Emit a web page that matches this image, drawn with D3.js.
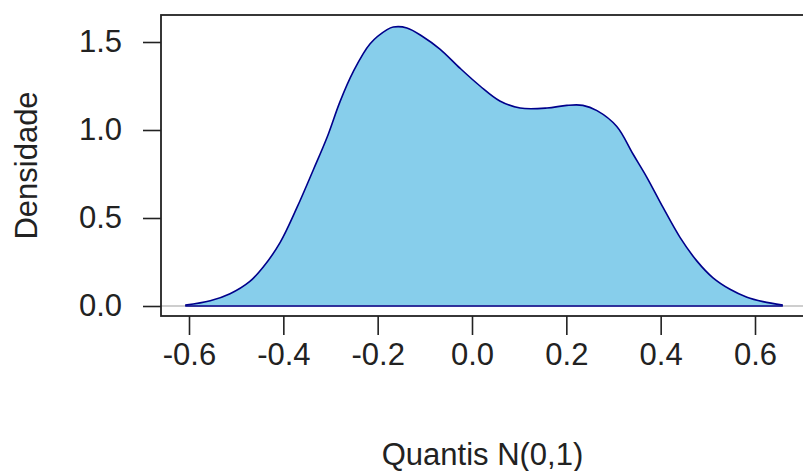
<!DOCTYPE html>
<html>
<head>
<meta charset="utf-8">
<script src="https://cdn.jsdelivr.net/npm/d3@7"></script>
<style>
  body { margin: 0; background: #fff; }
  text { font-family: "Liberation Sans", Arial, sans-serif; fill: #222; }
</style>
</head>
<body>
<svg id="chart" width="803" height="471"></svg>
<script>
// Density curve
const xs = [-0.608, -0.555, -0.513, -0.471, -0.443, -0.407, -0.371, -0.337, -0.307, -0.280,
  -0.252, -0.216, -0.180, -0.167, -0.138, -0.104, -0.068, -0.025, 0.017, 0.059,
  0.102, 0.159, 0.201, 0.235, 0.265, 0.307, 0.341, 0.371, 0.405, 0.441,
  0.477, 0.511, 0.547, 0.583, 0.617, 0.659];
const ys = [0.005, 0.03, 0.07, 0.14, 0.22, 0.36, 0.56, 0.77, 0.96, 1.16,
  1.33, 1.49, 1.57, 1.585, 1.58, 1.53, 1.46, 1.35, 1.25, 1.165,
  1.125, 1.125, 1.14, 1.14, 1.11, 1.02, 0.865, 0.73, 0.56, 0.39,
  0.255, 0.16, 0.095, 0.05, 0.025, 0.005];

const xTicks = [-0.6, -0.4, -0.2, 0.0, 0.2, 0.4, 0.6];
const yTicks = [0.0, 0.5, 1.0, 1.5];

const svg = d3.select('#chart');

// plot box
const box = { left: 161, top: 15, right: 804, bottom: 316 };

const x = d3.scaleLinear().domain([-0.6, 0.6]).range([189, 755]);
const y = d3.scaleLinear().domain([0, 1.5]).range([306, 42]);

const pts = xs.map((v, i) => [v, ys[i]]);
const curve = d3.curveCatmullRom.alpha(0.5);

// filled density
const area = d3.area()
  .x(d => x(d[0]))
  .y0(y(0))
  .y1(d => y(d[1]))
  .curve(curve);

svg.append('path')
  .datum(pts)
  .attr('d', area)
  .attr('fill', '#87CEEB')
  .attr('stroke', 'none');

// grey reference line at 0
svg.append('line')
  .attr('x1', box.left).attr('x2', box.right)
  .attr('y1', y(0)).attr('y2', y(0))
  .attr('stroke', '#bebebe')
  .attr('stroke-width', 1.5);

// polygon border
const line = d3.line()
  .x(d => x(d[0]))
  .y(d => y(d[1]))
  .curve(curve);

svg.append('path')
  .datum(pts)
  .attr('d', line)
  .attr('fill', 'none')
  .attr('stroke', '#00008B')
  .attr('stroke-width', 1.6);

svg.append('line')
  .attr('x1', x(xs[0])).attr('x2', x(xs[xs.length - 1]))
  .attr('y1', y(0)).attr('y2', y(0))
  .attr('stroke', '#00008B')
  .attr('stroke-width', 1.6);

// box
svg.append('rect')
  .attr('x', box.left).attr('y', box.top)
  .attr('width', box.right - box.left)
  .attr('height', box.bottom - box.top)
  .attr('fill', 'none')
  .attr('stroke', '#222')
  .attr('stroke-width', 1.8);

// x axis
const xAxis = d3.axisBottom(x)
  .tickValues(xTicks)
  .tickSize(19)
  .tickPadding(8)
  .tickFormat(d3.format('.1f'));

const gx = svg.append('g')
  .attr('transform', `translate(0,${box.bottom})`)
  .call(xAxis);
gx.select('.domain').remove();
gx.selectAll('line').attr('stroke', '#222').attr('stroke-width', 1.6);
gx.selectAll('text')
  .style('font-size', '31px')
  .style('font-family', '"Liberation Sans", Arial, sans-serif')
  .attr('fill', '#222')
  .text(d => d3.format('.1f')(d).replace('−', '-'));

// y axis
const yAxis = d3.axisLeft(y)
  .tickValues(yTicks)
  .tickSize(18)
  .tickPadding(21)
  .tickFormat(d3.format('.1f'));

const gy = svg.append('g')
  .attr('transform', `translate(${box.left},0)`)
  .call(yAxis);
gy.select('.domain').remove();
gy.selectAll('line').attr('stroke', '#222').attr('stroke-width', 1.6);
gy.selectAll('text')
  .style('font-size', '31px')
  .style('font-family', '"Liberation Sans", Arial, sans-serif')
  .attr('fill', '#222');

// axis titles
svg.append('text')
  .attr('x', (box.left + box.right) / 2)
  .attr('y', 465)
  .attr('text-anchor', 'middle')
  .style('font-size', '31px')
  .text('Quantis N(0,1)');

svg.append('text')
  .attr('transform', `translate(37,${(box.top + box.bottom) / 2}) rotate(-90)`)
  .attr('text-anchor', 'middle')
  .style('font-size', '31px')
  .text('Densidade');
</script>
</body>
</html>
